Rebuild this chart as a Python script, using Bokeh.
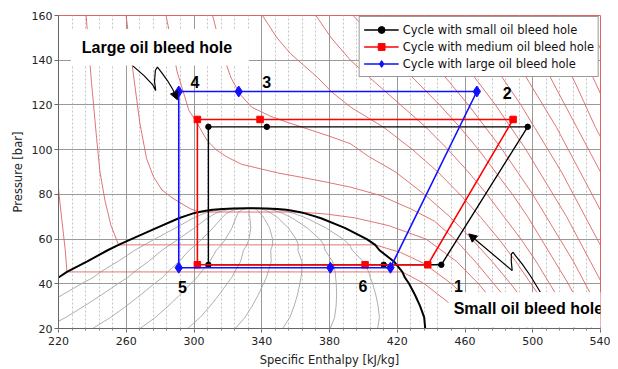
from bokeh.plotting import figure
from bokeh.models import (Range1d, FixedTicker, Legend, LegendItem,
                          Label, BoxAnnotation, Arrow, NormalHead)
from bokeh.embed import file_html
from bokeh.resources import INLINE

# ---------------- axis ticks ----------------
x_ticks = [220, 260, 300, 340, 380, 420, 460, 500, 540]
y_ticks = [20, 40, 60, 80, 100, 120, 140, 160]
x_minor_step = 8

# ---------------- saturation dome ----------------
sat_P = [20, 25, 30, 35, 40, 42.8, 45.3, 50, 55, 57.4, 60, 65, 69.3, 70.5, 71.5, 72.1, 72.7, 73.1, 73.5, 73.7, 73.8]
sat_hl = [156, 171.5, 185.5, 199, 212, 220, 225, 237, 249, 255.5, 263, 278, 291, 295.5, 299.5, 303, 307, 311, 317, 323, 333]
sat_hv = [436.5, 435.9, 433.5, 430.5, 427, 424.5, 423, 418, 409.5, 407, 402, 389, 375, 370, 365.5, 362, 358, 354.5, 349, 343, 333]
qualities = [0.1, 0.2, 0.3, 0.4, 0.5, 0.6, 0.7, 0.8, 0.9]

# ---------------- isotherms ----------------
P_std = [160, 150, 140, 130, 120, 110, 100, 90, 80, 70, 60, 50, 40, 30, 20]

iso10_h = [215, 218, 220.3, 222.5, 224, 225, 423, 436, 453, 466]
iso10_P = [120, 100, 80, 65, 55, 45.3, 45.3, 40, 30, 20]

iso20_h = [236.3, 239.5, 242.5, 244.5, 247.5, 251, 255.5, 407, 422, 436, 452, 466, 477]
iso20_P = [160, 130, 105, 90, 77, 66, 57.4, 57.4, 54, 49, 40, 30, 20]

iso30_h = [259.9, 264, 268, 272, 276, 281, 287, 293, 298, 303, 362, 378, 395, 415, 437, 455, 468, 479, 488]
iso30_P = [160, 135, 112, 96, 88, 82, 78.5, 75.7, 73.5, 72.1, 72.1, 71.2, 69.5, 66, 60, 50, 40, 30, 20]

iso40_h = [283.5, 290, 297, 301, 307.8, 313, 319.7, 328, 339.4, 350, 363, 378, 392.5, 410, 428, 442, 454, 466, 477, 488, 497]
iso40_P = [160, 135, 117.5, 113, 104, 100, 96.6, 93.5, 91.4, 89.5, 87.7, 85.5, 83.2, 79.5, 73.5, 68, 60, 50, 40, 30, 20]

iso50_h = [311, 316, 321.7, 327, 334, 345, 356, 368, 380, 392.5, 403, 419, 436, 451, 464, 476, 487, 497, 506]
iso50_P = [160, 145, 132.4, 125, 119, 115, 112, 109, 106, 102.6, 97, 90, 80, 70, 60, 50, 40, 30, 20]

iso60_h = [340.4, 349, 357, 372.8, 381, 392.5, 412, 429, 444, 457, 469, 480, 490, 499, 508, 516]
iso60_P = [160, 150, 142.9, 132.4, 126, 119, 110, 100, 90, 80, 70, 60, 50, 40, 30, 20]

iso70_h = [372, 381, 392.5, 407, 422, 437, 450, 462, 473, 483, 493, 502, 510, 518, 525]
iso70_P = [160, 150, 139.9, 130, 120, 110, 100, 90, 80, 70, 60, 50, 40, 30, 20]

iso80_h = [394, 406, 419, 432, 445, 457, 468, 478, 488, 497, 505, 513, 521, 528, 535]
iso90_h = [417, 428, 440, 451, 462, 472, 482, 491, 500, 508, 516, 524, 531, 538, 545]
iso100_h = [437, 448, 458, 468, 478, 487, 496, 504, 512, 520, 527, 534, 541, 548, 555]
iso110_h = [457, 466, 475, 484, 493, 501, 509, 517, 524, 531, 538, 545]
iso120_h = [474, 482, 490, 498, 506, 514, 521, 528, 535, 542]
iso130_h = [490, 497, 505, 512, 519, 526, 533, 540]
iso140_h = [504, 511, 518, 525, 531, 537, 544]
iso150_h = [518, 525, 531, 537, 543]
iso160_h = [532, 537, 543]

# ---------------- refrigeration cycles (points 1-2-3-4-5-6-1) ----------------
small_h = [446, 497, 343, 308.5, 308.5, 412, 446]
small_P = [48.5, 110.2, 110.2, 110.2, 48.5, 48.5, 48.5]
medium_h = [438, 488.4, 339, 302, 302, 401, 438]
medium_P = [48.5, 113.5, 113.5, 113.5, 48.5, 48.5, 48.5]
large_h = [416, 467, 326.4, 291, 291, 380.5, 416]
large_P = [47.2, 126, 126, 126, 47.2, 47.2, 47.2]

# state-point labels
pt_text = ["1", "2", "3", "4", "5", "6"]
pt_h = [456.2, 484.9, 342.9, 300.6, 293.2, 399.7]
pt_P = [38.9, 125.2, 130.2, 130.2, 38.7, 39.2]

# annotation arrows
big_arrow_h = [263.7, 270.5, 275.5, 277.4, 276.7, 277.2, 278.4, 280.8, 284.3, 287.6]
big_arrow_P = [137.6, 133.1, 129.1, 126.4, 130.5, 135.5, 136.9, 134.6, 130.9, 126.8]
big_tip = (290.2, 122.3)
small_arrow_h = [504.5, 498.6, 493.7, 489.8, 488.4, 487.4, 487.3, 487.85]
small_arrow_P = [36.2, 43.6, 48.9, 52.6, 54.1, 53.4, 50.4, 45.9]
small_tip = (462.2, 62.3)

FONT = "DejaVu Sans"
BOLD = "Liberation Sans"
ISO_COLOR = "#e06464"

p = figure(width=610, height=369, x_range=Range1d(220, 540), y_range=Range1d(20, 160),
           output_backend="svg", toolbar_location=None,
           min_border_left=58, min_border_right=10, min_border_top=15, min_border_bottom=41,
           x_axis_label="Specific Enthalpy [kJ/kg]", y_axis_label="Pressure [bar]")
p.background_fill_color = "white"
p.border_fill_color = "white"
p.outline_line_color = ISO_COLOR
p.outline_line_width = 1

x_minor = list(range(x_ticks[0], x_ticks[-1] + 1, x_minor_step))
p.xaxis.ticker = FixedTicker(ticks=x_ticks, minor_ticks=x_minor)
p.yaxis.ticker = FixedTicker(ticks=y_ticks)
for ax in (p.xaxis[0], p.yaxis[0]):
    ax.axis_line_color = "#666666"
    ax.major_tick_line_color = "#666666"
    ax.minor_tick_line_color = "#888888"
    ax.major_tick_in = 0
    ax.major_tick_out = 4
    ax.minor_tick_in = 0
    ax.minor_tick_out = 2
    ax.major_label_text_font = FONT
    ax.major_label_text_font_size = "11px"
    ax.major_label_text_color = "#222222"
    ax.axis_label_text_font = FONT
    ax.axis_label_text_font_size = "11.5px"
    ax.axis_label_text_font_style = "normal"
    ax.axis_label_text_color = "#222222"
p.yaxis.minor_tick_line_color = None
p.xaxis.major_label_standoff = 4
p.xaxis.axis_label_standoff = 5
p.yaxis.major_label_standoff = 2
p.yaxis.axis_label_standoff = 4

p.xgrid.grid_line_color = "#9a9a9a"
p.ygrid.grid_line_color = "#9a9a9a"
p.xgrid.minor_grid_line_color = "#c4c4c4"
p.xgrid.minor_grid_line_dash = "2 2"

# quality lines inside the dome
for q in qualities:
    qh = [hl + q * (hv - hl) for hl, hv in zip(sat_hl, sat_hv)]
    p.line(qh, sat_P, line_color="#a6a6a6", line_width=0.9)

# isotherms
iso_lines = [(iso10_h, iso10_P), (iso20_h, iso20_P), (iso30_h, iso30_P), (iso40_h, iso40_P),
             (iso50_h, iso50_P), (iso60_h, iso60_P), (iso70_h, iso70_P),
             (iso80_h, P_std), (iso90_h, P_std), (iso100_h, P_std), (iso110_h, P_std),
             (iso120_h, P_std), (iso130_h, P_std), (iso140_h, P_std), (iso150_h, P_std),
             (iso160_h, P_std)]
for hh, pp in iso_lines:
    p.line(hh, pp[:len(hh)], line_color=ISO_COLOR, line_width=0.9)

# saturation dome
p.line(sat_hl + sat_hv[::-1], sat_P + sat_P[::-1], line_color="black", line_width=2)

# cycles
l_s = p.line(small_h, small_P, line_color="black", line_width=1.4)
m_s = p.scatter(small_h[:-1], small_P[:-1], marker="circle", size=5.5, color="black")
l_m = p.line(medium_h, medium_P, line_color="#ff0000", line_width=1.6)
m_m = p.scatter(medium_h[:-1], medium_P[:-1], marker="square", size=6.5, color="#ff0000")
l_l = p.line(large_h, large_P, line_color="#1010ff", line_width=1.6)
m_l = p.scatter(large_h[:-1], large_P[:-1], marker="diamond", size=11, color="#1010ff")

legend = Legend(items=[
    LegendItem(label="Cycle with small oil bleed hole", renderers=[l_s, m_s]),
    LegendItem(label="Cycle with medium oil bleed hole", renderers=[l_m, m_m]),
    LegendItem(label="Cycle with large oil bleed hole", renderers=[l_l, m_l]),
], location="top_right")
legend.margin = 1
legend.padding = 4
legend.spacing = 0
legend.glyph_width = 35
legend.glyph_height = 17
legend.label_height = 17
legend.label_standoff = 4
legend.label_text_font = FONT
legend.label_text_font_size = "11.5px"
legend.label_text_color = "#111111"
legend.border_line_color = "#333333"
legend.border_line_width = 1
legend.background_fill_color = "white"
legend.background_fill_alpha = 1
p.add_layout(legend)

# state labels
for t, hx, px in zip(pt_text, pt_h, pt_P):
    p.add_layout(Label(x=hx, y=px, text=t, text_font=BOLD, text_font_size="16px",
                       text_font_style="bold", text_align="center", text_baseline="middle",
                       text_color="black"))

# annotation boxes + texts
p.add_layout(BoxAnnotation(left=227.3, right=332.4, bottom=137.6, top=154.0,
                           fill_color="white", fill_alpha=1, line_color=None))
p.add_layout(BoxAnnotation(left=450.3, right=548, bottom=20.4, top=36.2,
                           fill_color="white", fill_alpha=1, line_color=None))
p.add_layout(Label(x=278.1, y=145.9, text="Large oil bleed hole", text_font=BOLD,
                   text_font_size="16px", text_font_style="bold", text_align="center",
                   text_baseline="middle", text_color="black"))
p.add_layout(Label(x=497.4, y=29.0, text="Small oil bleed hole", text_font=BOLD,
                   text_font_size="16px", text_font_style="bold", text_align="center",
                   text_baseline="middle", text_color="black"))

# squiggly arrows
p.line(big_arrow_h, big_arrow_P, line_color="black", line_width=1.2)
p.add_layout(Arrow(end=NormalHead(size=8, fill_color="black", line_color="black"),
                   x_start=big_arrow_h[-1], y_start=big_arrow_P[-1],
                   x_end=big_tip[0], y_end=big_tip[1], line_color="black", line_width=1.2))
p.line(small_arrow_h, small_arrow_P, line_color="black", line_width=1.2)
p.add_layout(Arrow(end=NormalHead(size=8, fill_color="black", line_color="black"),
                   x_start=small_arrow_h[-1], y_start=small_arrow_P[-1],
                   x_end=small_tip[0], y_end=small_tip[1], line_color="black", line_width=1.2))

open("out.html", "w").write(file_html(p, INLINE))
